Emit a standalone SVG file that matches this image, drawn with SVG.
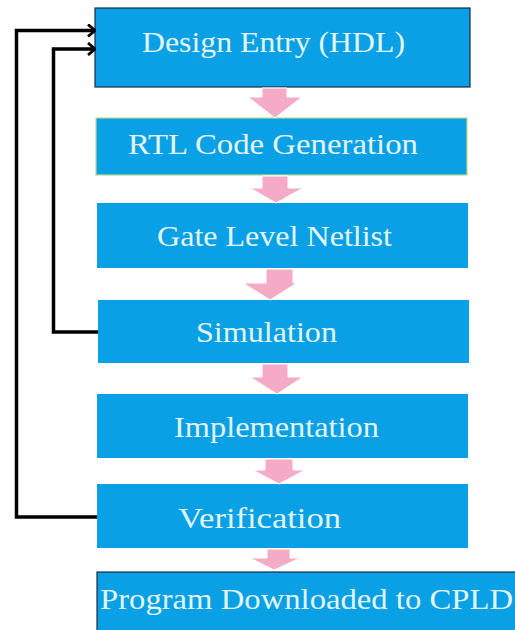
<svg xmlns="http://www.w3.org/2000/svg" width="515" height="630" viewBox="0 0 515 630">
<style>
.box{fill:#09a0e5;}
.lbl{font-family:"Liberation Serif","Times New Roman",serif;font-size:29px;fill:#e2f5f6;}
.pk{fill:#f5aac5;stroke:#ffffff;stroke-width:1;}
.fb{fill:none;stroke:#000;stroke-width:3.5;}
</style>
<defs>
<marker id="chev" viewBox="0 0 10 14" refX="9" refY="7" markerWidth="10" markerHeight="14" markerUnits="userSpaceOnUse" orient="auto">
<path d="M2,1 L9,7 L2,13" fill="none" stroke="#000" stroke-width="2.8"/>
</marker>
</defs>
<rect width="515" height="630" fill="#ffffff"/>
<g id="n1">
<rect class="box" x="95" y="8" width="375" height="79" stroke="#1d2b44" stroke-width="1.2"/>
<text class="lbl" x="142" y="52" textLength="263" lengthAdjust="spacingAndGlyphs">Design Entry (HDL)</text>
</g>
<g id="n2">
<rect class="box" x="96" y="118" width="371" height="57" stroke="#b9d98c" stroke-width="1.2"/>
<text class="lbl" x="128" y="154" textLength="290" lengthAdjust="spacingAndGlyphs">RTL Code Generation</text>
</g>
<g id="n3">
<rect class="box" x="97" y="203" width="371" height="65"/>
<text class="lbl" x="157" y="246" textLength="235" lengthAdjust="spacingAndGlyphs">Gate Level Netlist</text>
</g>
<g id="n4">
<rect class="box" x="98" y="300" width="371" height="63"/>
<text class="lbl" x="196" y="342" textLength="141" lengthAdjust="spacingAndGlyphs">Simulation</text>
</g>
<g id="n5">
<rect class="box" x="97" y="394" width="371" height="64"/>
<text class="lbl" x="174" y="437" textLength="205" lengthAdjust="spacingAndGlyphs">Implementation</text>
</g>
<g id="n6">
<rect class="box" x="97" y="484" width="371" height="64"/>
<text class="lbl" x="178" y="528" textLength="163" lengthAdjust="spacingAndGlyphs">Verification</text>
</g>
<g id="n7">
<rect class="box" x="97" y="572" width="430" height="70" stroke="#1d2b44" stroke-width="1.2"/>
<text class="lbl" x="100" y="609" textLength="413" lengthAdjust="spacingAndGlyphs">Program Downloaded to CPLD</text>
</g>
<g id="connectors">
<polygon class="pk" points="262,88 287,88 287,97 302,97 275,118 248,97 262,97"/>
<polygon class="pk" points="262,176 288,176 288,188 303,188 276,203 250,188 262,188"/>
<polygon class="pk" points="266,269 293,269 293,283 297,283 270,300 243,283 266,283"/>
<polygon class="pk" points="262,364 288,364 288,377 303,377 277,394 250,377 262,377"/>
<polygon class="pk" points="265,459 293,459 293,470 305,470 279,484 253,470 265,470"/>
<polygon class="pk" points="267,549 290,549 290,558 300,558 274,570 250,558 267,558"/>
<polyline class="fb" points="97,517 16.5,517 16.5,30.5 95,30.5" marker-end="url(#chev)"/>
<polyline class="fb" points="98,332 53.5,332 53.5,49 95,49" marker-end="url(#chev)"/>
</g>
</svg>
